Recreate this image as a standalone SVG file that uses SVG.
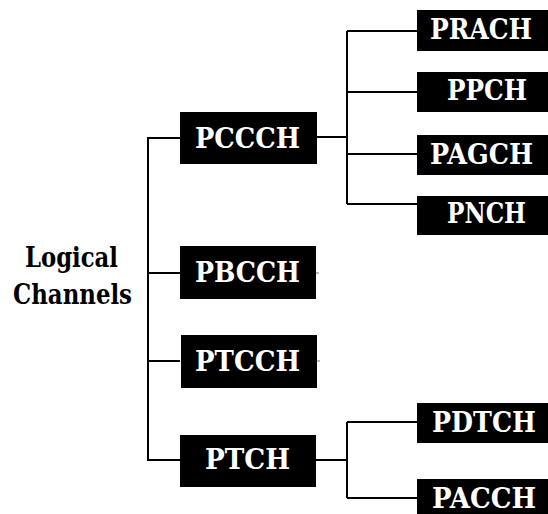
<svg xmlns="http://www.w3.org/2000/svg" width="548" height="514" viewBox="0 0 548 514">
<style>
.box{fill:#000}
text{font-family:'DejaVu Serif',serif;font-weight:700;font-size:28.5px}
.lbl{fill:#fff}
.root{fill:#000}
.con{stroke:#000;stroke-width:2;fill:none}
.tick{stroke:#777;stroke-width:1;fill:none}
</style>
<rect width="548" height="514" fill="#fff"/>
<g id="connectors">
<path class="con" d="M148,137 V461 M148,138 H180 M148,273 H180 M148,361 H180 M148,460 H180"/>
<path class="con" d="M317,137 H347 M347,31 V204 M347,31 H417 M347,92 H417 M347,154 H417 M347,204 H417"/>
<path class="con" d="M316,460 H347 M347,422 V498 M347,422 H417 M347,498 H417"/>
<path class="tick" d="M316,273 H319 M317,361 H320"/>
</g>
<g id="logical-channels"><text class="root" x="25" y="267" textLength="93" lengthAdjust="spacingAndGlyphs">Logical</text><text class="root" x="13" y="304" textLength="119" lengthAdjust="spacingAndGlyphs">Channels</text></g>
<g id="pccch"><rect class="box" x="180" y="112" width="137" height="52"/><text class="lbl" x="195" y="148" textLength="105" lengthAdjust="spacingAndGlyphs">PCCCH</text></g>
<g id="pbcch"><rect class="box" x="180" y="246" width="136" height="53"/><text class="lbl" x="195" y="282" textLength="105" lengthAdjust="spacingAndGlyphs">PBCCH</text></g>
<g id="ptcch"><rect class="box" x="181" y="335" width="136" height="53"/><text class="lbl" x="195" y="371" textLength="105" lengthAdjust="spacingAndGlyphs">PTCCH</text></g>
<g id="ptch"><rect class="box" x="180" y="435" width="136" height="52"/><text class="lbl" x="205" y="469" textLength="85" lengthAdjust="spacingAndGlyphs">PTCH</text></g>
<g id="prach"><rect class="box" x="417" y="10" width="131" height="41"/><text class="lbl" x="430" y="39" textLength="102" lengthAdjust="spacingAndGlyphs">PRACH</text></g>
<g id="ppch"><rect class="box" x="417" y="72" width="131" height="40"/><text class="lbl" x="447" y="100" textLength="80" lengthAdjust="spacingAndGlyphs">PPCH</text></g>
<g id="pagch"><rect class="box" x="417" y="135" width="131" height="40"/><text class="lbl" x="430" y="164" textLength="103" lengthAdjust="spacingAndGlyphs">PAGCH</text></g>
<g id="pnch"><rect class="box" x="417" y="196" width="131" height="39"/><text class="lbl" x="447" y="223" textLength="79" lengthAdjust="spacingAndGlyphs">PNCH</text></g>
<g id="pdtch"><rect class="box" x="417" y="403" width="131" height="40"/><text class="lbl" x="432" y="432" textLength="104" lengthAdjust="spacingAndGlyphs">PDTCH</text></g>
<g id="pacch"><rect class="box" x="417" y="479" width="131" height="35"/><text class="lbl" x="432" y="508" textLength="104" lengthAdjust="spacingAndGlyphs">PACCH</text></g>
</svg>
